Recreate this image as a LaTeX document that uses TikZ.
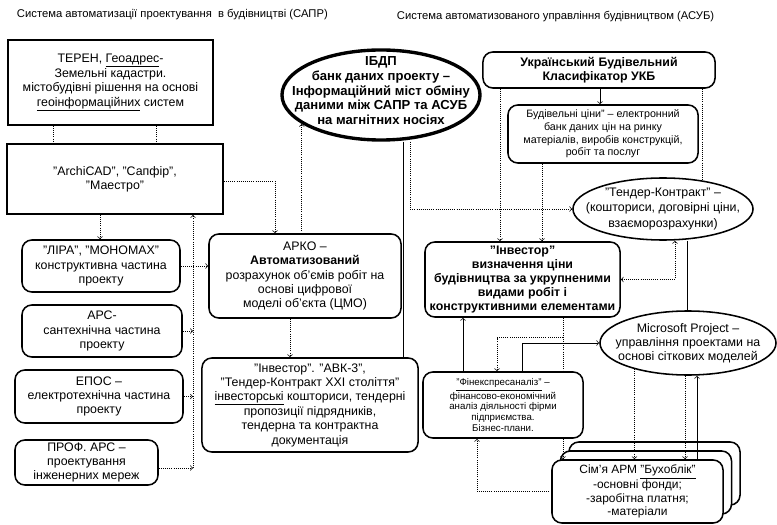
\documentclass[tikz,border=0pt]{standalone}
\usepackage{fontspec}
\setmainfont{Liberation Sans}
\usetikzlibrary{shapes.geometric}

\begin{document}
\begin{tikzpicture}[x=0.025cm, y=-0.025cm, >=to,
  font=\fontsize{8.8}{10}\selectfont,
  sharpbox/.style={rectangle, draw, line width=1.3pt, align=center, inner sep=0pt},
  roundbox/.style={rectangle, draw, rounded corners=7pt, line width=1.1pt, align=center, inner sep=0pt, fill=white},
  oval/.style={ellipse, draw, line width=1.1pt, inner sep=0pt},
  link/.style={densely dotted, line width=0.5pt},
  wire/.style={line width=0.5pt}]
  \useasboundingbox (0,0) rectangle (777,525);

  \node[anchor=west, font=\fontsize{8}{9.6}\selectfont] (ttlsapr) at (12,15) {Система автоматизації проектування \ в будівництві (САПР)};
  \node[anchor=west, font=\fontsize{8}{9.6}\selectfont] (ttlasub) at (392,17) {Система автоматизованого управління будівництвом (АСУБ)};

  \node[sharpbox, minimum width=5.125cm, minimum height=2.125cm] (teren) at (110.5,82.5) {ТЕРЕН, \underline{Геоадрес}-\\Земельні кадастри.\\містобудівні рішення на основі\\\underline{геоінформаційних} систем};
  \node[sharpbox, minimum width=5.4cm, minimum height=1.75cm] (archicad) at (115,179) {"ArchiCAD", "Сапфір",\\"Маестро"};
  \node[roundbox, minimum width=3.95cm, minimum height=1.3cm] (lira) at (101,266) {"ЛІРА", "МОНОМАХ"\\конструктивна частина\\проекту};
  \node[roundbox, minimum width=4cm, minimum height=1.3cm] (ars) at (102,331) {АРС-\\сантехнічна частина\\проекту};
  \node[roundbox, minimum width=4.2cm, minimum height=1.325cm] (epos) at (99,396.5) {ЕПОС –\\електротехнічна частина\\проекту};
  \node[roundbox, minimum width=3.575cm, minimum height=1.125cm] (prof) at (86.5,462.5) {ПРОФ. АРС –\\проектування\\інженерних мереж};
  \node[roundbox, minimum width=4.8cm, minimum height=2.1cm] (arko) at (305,276) {АРКО –\\\textbf{Автоматизований}\\розрахунок об’ємів робіт на\\основі цифрової\\моделі об’єкта (ЦМО)};
  \node[roundbox, minimum width=5.4cm, minimum height=2.35cm] (avk) at (310,405) {"Інвестор". "АВК-3",\\"Тендер-Контракт XXI століття"\\\underline{інвесторські} кошториси, тендерні\\пропозиції підрядників,\\тендерна та контрактна\\документація};

  \node[oval, line width=2.4pt, minimum width=4.95cm, minimum height=2.25cm,
    label={[align=center, yshift=3pt, font=\fontsize{9.3}{10.4}\selectfont\bfseries]center:ІБДП\\банк даних проекту –\\Інформаційний міст обміну\\даними між САПР та АСУБ\\на магнітних носіях}] (ibdp) at (381,95) {};
  \node[roundbox, font=\fontsize{8.8}{10}\selectfont\bfseries, minimum width=5.8cm, minimum height=0.9cm] (ukb) at (599,70) {Український Будівельний\\Класифікатор УКБ};
  \node[roundbox, font=\fontsize{7.6}{9}\selectfont, minimum width=4.75cm, minimum height=1.45cm] (prices) at (603,134) {Будівельні ціни" – електронний\\банк даних цін на ринку\\матеріалів, виробів конструкцій,\\робіт та послуг};
  \node[oval, minimum width=4.5cm, minimum height=1.55cm,
    label={[align=center, font=\fontsize{8.8}{11}\selectfont]center:"Тендер-Контракт" –\\(кошториси, договірні ціни,\\взаєморозрахунки)}] (tender) at (663,209) {};
  \node[roundbox, font=\fontsize{8.8}{10}\selectfont\bfseries, minimum width=4.875cm, minimum height=1.875cm] (investor) at (522.5,279.5) {"Інвестор"\\визначення ціни\\будівництва за укрупненими\\видами робіт і\\конструктивними елементами};
  \node[oval, minimum width=4.4cm, minimum height=1.6cm,
    label={[align=center, font=\fontsize{8.8}{10}\selectfont]center:Microsoft Project –\\управління проектами на\\основі сіткових моделей}] (msproj) at (688,343) {};
  \node[roundbox, font=\fontsize{6.9}{7.5}\selectfont, minimum width=4cm, minimum height=1.65cm] (finexp) at (503,405) {\underline{"Фінекспресаналіз"} –\\фінансово-економічний\\аналіз діяльності фірми\\підприємства.\\Бізнес-плани.};
  \node[roundbox, minimum width=4.275cm, minimum height=1.575cm] (buh3) at (654.5,473.5) {};
  \node[roundbox, minimum width=4.275cm, minimum height=1.575cm] (buh2) at (646,482.5) {};
  \node[roundbox, font=\fontsize{8.5}{9.6}\selectfont, minimum width=4.275cm, minimum height=1.575cm] (buh) at (637.5,491.5) {Сім’я АРМ \underline{"Бухоблік"}\\-основні фонди;\\-заробітна платня;\\-матеріали};

  \coordinate (bus) at (193,468);

  \draw[link] (teren.south -| 53,0) -- (archicad.north -| 53,0);
  \draw[link] (teren.south -| 156,0) -- (archicad.north -| 156,0);
  \draw[link,->] (archicad.east |- 0,181) -| (arko.north -| 275,0);
  \draw[link,->] (archicad.south -| 100,0) -- (lira.north -| 100,0);
  \draw[link,->] (bus) -- (bus |- archicad.south);
  \draw[link,->] (lira.east) -- (arko.west |- lira.east);
  \draw[link,->] (ars.east) -- (bus |- ars.east);
  \draw[link,->] (epos.east) -- (bus |- epos.east);
  \draw[link,->] (prof.east |- bus) -- (bus);
  \draw[link,->] (arko.south -| 290,0) -- (avk.north -| 290,0);
  \draw[link,->] (arko.north -| ibdp.200) -- (ibdp.200);
  \draw[wire] (ibdp.south -| 403,0) -- (avk.north -| 403,0);
  \draw[link,->] (ibdp.south -| 410,0) |- (tender.west);
  \draw[wire,->] (ukb.south -| 600,0) -- (prices.north -| 600,0);
  \draw[link,->] (ukb.south -| 500,0) -- (investor.north -| 500,0);
  \draw[link,->] (prices.south -| 542,0) -- (investor.north -| 542,0);
  \draw[link] (ukb.south -| tender.36) -- (tender.36);
  \draw[link,<->] (investor.east) -| (tender.south -| 675,0);
  \draw[wire] (tender.south -| 687,0) -- (msproj.north -| 687,0);
  \draw[wire,->] (finexp.north -| 463,0) -- (investor.south -| 463,0);
  \draw[wire,->] (finexp.north -| 522,0) |- (msproj.west);
  \draw[link] (investor.south -| 563,0) -- (finexp.north -| 563,0);
  \draw[link,->] (investor.south -| 563,0) ++(0,20) -| (finexp.north -| 497,0);
  \draw[link,->] (finexp.south -| 563,0) -- (buh.north -| 563,0);
  \draw[link,->] (buh.west) -| (finexp.south -| 477,0);
  \draw[link,->] (msproj.206) -- (buh.north -| msproj.206);
  \draw[link,->] (msproj.south -| 685,0) -- (buh.north -| 685,0);
  \draw[wire,->] (buh.north -| 697,0) -- (msproj.south -| 697,0);
\end{tikzpicture}
\end{document}
